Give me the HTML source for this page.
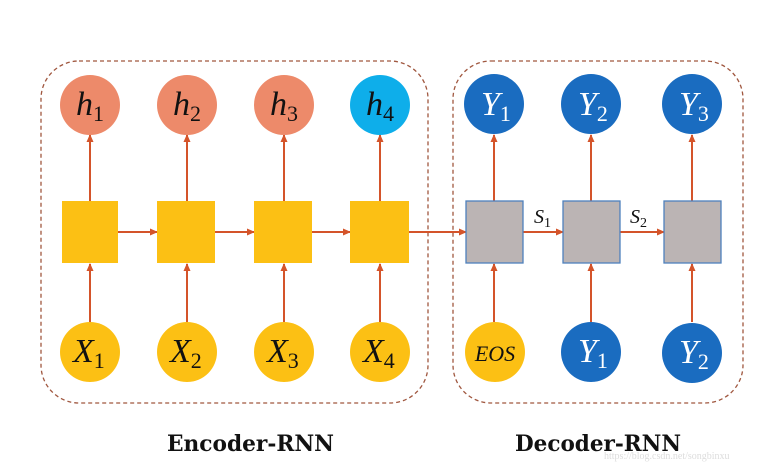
<!DOCTYPE html>
<html><head><meta charset="utf-8"><style>
html,body{margin:0;padding:0;background:#fff;}
svg{display:block;}
</style></head><body>
<svg width="765" height="462" viewBox="0 0 765 462" xmlns="http://www.w3.org/2000/svg">
<defs><marker id="a" markerWidth="8" markerHeight="8" refX="7" refY="4" orient="auto" markerUnits="userSpaceOnUse"><path d="M0,0.5 L8,4 L0,7.5z" fill="#d4542a"/></marker></defs>
<rect x="41" y="61" width="387" height="342" rx="38" fill="none" stroke="#a0573f" stroke-width="1.3" stroke-dasharray="4,3"/>
<rect x="453" y="61" width="290" height="342" rx="38" fill="none" stroke="#a0573f" stroke-width="1.3" stroke-dasharray="4,3"/>
<g stroke="#d4542a" stroke-width="2" fill="none" marker-end="url(#a)">
<line x1="90" y1="201" x2="90" y2="135"/><line x1="187" y1="201" x2="187" y2="135"/><line x1="284" y1="201" x2="284" y2="135"/><line x1="380" y1="201" x2="380" y2="135"/>
<line x1="90" y1="322" x2="90" y2="264"/><line x1="187" y1="322" x2="187" y2="264"/><line x1="284" y1="322" x2="284" y2="264"/><line x1="380" y1="322" x2="380" y2="264"/>
<line x1="118" y1="232" x2="157" y2="232"/><line x1="215" y1="232" x2="254" y2="232"/><line x1="312" y1="232" x2="350" y2="232"/><line x1="409" y1="232" x2="466" y2="232"/>
<line x1="523" y1="232" x2="563" y2="232"/><line x1="620" y1="232" x2="664" y2="232"/>
<line x1="494" y1="201" x2="494" y2="135"/><line x1="591" y1="201" x2="591" y2="135"/><line x1="692" y1="201" x2="692" y2="135"/>
<line x1="494" y1="322" x2="494" y2="264"/><line x1="591" y1="322" x2="591" y2="264"/><line x1="692" y1="322" x2="692" y2="264"/>
</g>
<g fill="#fcc014"><rect x="62" y="201" width="56" height="62"/><rect x="157" y="201" width="58" height="62"/><rect x="254" y="201" width="58" height="62"/><rect x="350" y="201" width="59" height="62"/></g>
<g fill="#bbb4b4" stroke="#4f81bd" stroke-width="1.3"><rect x="466" y="201" width="57" height="62"/><rect x="563" y="201" width="57" height="62"/><rect x="664" y="201" width="57" height="62"/></g>
<g fill="#ed8a6a"><circle cx="90" cy="105" r="30"/><circle cx="187" cy="105" r="30"/><circle cx="284" cy="105" r="30"/></g>
<circle cx="380" cy="105" r="30" fill="#0eaeea"/>
<g fill="#fcc014"><circle cx="90" cy="352" r="30"/><circle cx="187" cy="352" r="30"/><circle cx="284" cy="352" r="30"/><circle cx="380" cy="352" r="30"/><circle cx="495" cy="352" r="30"/></g>
<g fill="#1a6cc0"><circle cx="494" cy="104" r="30"/><circle cx="591" cy="104" r="30"/><circle cx="692" cy="104" r="30"/><circle cx="591" cy="352" r="30"/><circle cx="692" cy="353" r="30"/></g>
<g font-family="Liberation Serif, serif" font-style="italic" font-size="34" fill="#111">
<text x="76" y="115">h<tspan font-style="normal" font-size="22" dy="6">1</tspan></text>
<text x="173" y="115">h<tspan font-style="normal" font-size="22" dy="6">2</tspan></text>
<text x="270" y="115">h<tspan font-style="normal" font-size="22" dy="6">3</tspan></text>
<text x="366" y="115">h<tspan font-style="normal" font-size="22" dy="6">4</tspan></text>
<text x="73" y="362">X<tspan font-style="normal" font-size="22" dy="6">1</tspan></text>
<text x="170" y="362">X<tspan font-style="normal" font-size="22" dy="6">2</tspan></text>
<text x="267" y="362">X<tspan font-style="normal" font-size="22" dy="6">3</tspan></text>
<text x="363" y="362">X<tspan font-style="normal" font-size="22" dy="6">4</tspan></text>
</g>
<g font-family="Liberation Serif, serif" font-style="italic" font-size="34" fill="#fff">
<text x="481" y="115">Y<tspan font-style="normal" font-size="22" dy="6">1</tspan></text>
<text x="578" y="115">Y<tspan font-style="normal" font-size="22" dy="6">2</tspan></text>
<text x="679" y="115">Y<tspan font-style="normal" font-size="22" dy="6">3</tspan></text>
<text x="578" y="362">Y<tspan font-style="normal" font-size="22" dy="6">1</tspan></text>
<text x="679" y="363">Y<tspan font-style="normal" font-size="22" dy="6">2</tspan></text>
</g>
<text x="495" y="361" font-family="Liberation Serif, serif" font-style="italic" font-size="22" fill="#111" text-anchor="middle">EOS</text>
<text x="534" y="223" font-family="Liberation Serif, serif" font-style="italic" font-size="20" fill="#111">S<tspan font-style="normal" font-size="14" dy="4">1</tspan></text>
<text x="630" y="223" font-family="Liberation Serif, serif" font-style="italic" font-size="20" fill="#111">S<tspan font-style="normal" font-size="14" dy="4">2</tspan></text>
<g font-family="DejaVu Serif, Liberation Serif, serif" font-size="22" font-weight="bold" fill="#111">
<text x="167" y="451" textLength="167" lengthAdjust="spacingAndGlyphs">Encoder-RNN</text>
<text x="515" y="451" textLength="166" lengthAdjust="spacingAndGlyphs">Decoder-RNN</text>
</g>
<text x="604" y="459" font-family="Liberation Serif, serif" font-size="10" fill="#ddd">https://blog.csdn.net/songbinxu</text>
</svg>
</body></html>
